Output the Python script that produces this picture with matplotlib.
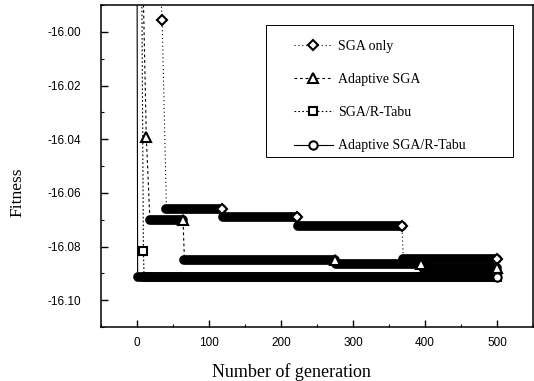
import matplotlib
matplotlib.use('Agg')
import matplotlib.pyplot as plt
from matplotlib.patches import Rectangle

plt.rcParams['axes.unicode_minus'] = False

# SGA only: leading points, then flat runs (start gen, end gen, fitness)
sga_head_gen = [30, 35]
sga_head_fit = [-15.97, -15.9955]
sga_start = [41, 120, 224, 370]
sga_end = [118, 222, 368, 500]
sga_level = [-16.066, -16.069, -16.0722, -16.0845]

# Adaptive SGA
asga_head_gen = [6, 13]
asga_head_fit = [-15.95, -16.039]
asga_start = [18, 66, 277, 397]
asga_end = [64, 275, 395, 500]
asga_level = [-16.070, -16.085, -16.0865, -16.088]

# SGA/R-Tabu
tabu_head_gen = [6, 9]
tabu_head_fit = [-15.95, -16.0815]
tabu_start = [10]
tabu_end = [500]
tabu_level = [-16.0915]

# Adaptive SGA/R-Tabu
atabu_head_gen = [0]
atabu_head_fit = [-15.95]
atabu_start = [1]
atabu_end = [500]
atabu_level = [-16.0915]

labels = ['SGA only', 'Adaptive SGA', 'SGA/R-Tabu', 'Adaptive SGA/R-Tabu']
x_ticks = [0, 100, 200, 300, 400, 500]
y_ticks = [-16.10, -16.08, -16.06, -16.04, -16.02, -16.00]


def draw(ax, head_gen, head_fit, start, end, level, marker, ms, ls, label):
    xs = list(head_gen)
    ys = list(head_fit)
    every = list(range(len(xs)))
    for s, e, v in zip(start, end, level):
        xs += [s, e]
        ys += [v, v]
        every.append(len(xs) - 1)
    # dense markers of each run show up as a thick band
    ax.hlines(level, start, end, colors='black', linewidth=7,
              capstyle='round', zorder=2)
    ax.plot(xs, ys, color='black', lw=0.8, ls=ls, marker=marker, ms=ms,
            mfc='white', mec='black', mew=1.5, markevery=every,
            label=label, zorder=3)


fig = plt.figure(figsize=(5.34, 3.81), dpi=100)
ax = fig.add_axes([0.189, 0.1417, 0.809, 0.845])

draw(ax, sga_head_gen, sga_head_fit, sga_start, sga_end, sga_level,
     'D', 5, (0, (1, 2.5)), labels[0])
draw(ax, asga_head_gen, asga_head_fit, asga_start, asga_end, asga_level,
     '^', 7, (0, (2.5, 2.5)), labels[1])
draw(ax, tabu_head_gen, tabu_head_fit, tabu_start, tabu_end, tabu_level,
     's', 5.5, (0, (1.5, 2)), labels[2])
draw(ax, atabu_head_gen, atabu_head_fit, atabu_start, atabu_end, atabu_level,
     'o', 6, '-', labels[3])

ax.set_xlim(-50, 550)
ax.set_ylim(-16.11, -15.99)
ax.set_xticks(x_ticks)
ax.set_xticks(range(-50, 551, 50), minor=True)
ax.set_yticks(y_ticks)
ax.set_yticks([-16.11 + 0.01 * i for i in range(13)], minor=True)
ax.set_yticklabels(['%.2f' % v for v in y_ticks])

ax.tick_params(which='both', direction='in', top=False, right=False)
ax.tick_params(which='major', length=5, width=1)
ax.tick_params(which='minor', length=2.5, width=0.8)
ax.tick_params(axis='y', pad=14)
ax.tick_params(axis='x', pad=7)
for lab in ax.get_xticklabels() + ax.get_yticklabels():
    lab.set_family('Liberation Sans')
    lab.set_fontsize(8.5)
for sp in ax.spines.values():
    sp.set_linewidth(1.1)

ax.set_xlabel('Number of generation', family='Liberation Serif', fontsize=13)
ax.xaxis.set_label_coords(0.44, -0.112)
ax.set_ylabel('Fitness', family='Liberation Serif', fontsize=12.5)
ax.yaxis.set_label_coords(-0.175, 0.42)

ax.legend(loc='center left', bbox_to_anchor=(0.43, 0.717), frameon=False,
          borderpad=0, handlelength=2.8, handletextpad=0.4, labelspacing=1.45,
          numpoints=1, prop={'family': 'Liberation Serif', 'size': 10})
ax.add_patch(Rectangle((0.382, 0.528), 0.572, 0.41, transform=ax.transAxes,
                       fill=False, lw=0.7, ec='black', zorder=4))

fig.savefig('out.png', dpi=100)
